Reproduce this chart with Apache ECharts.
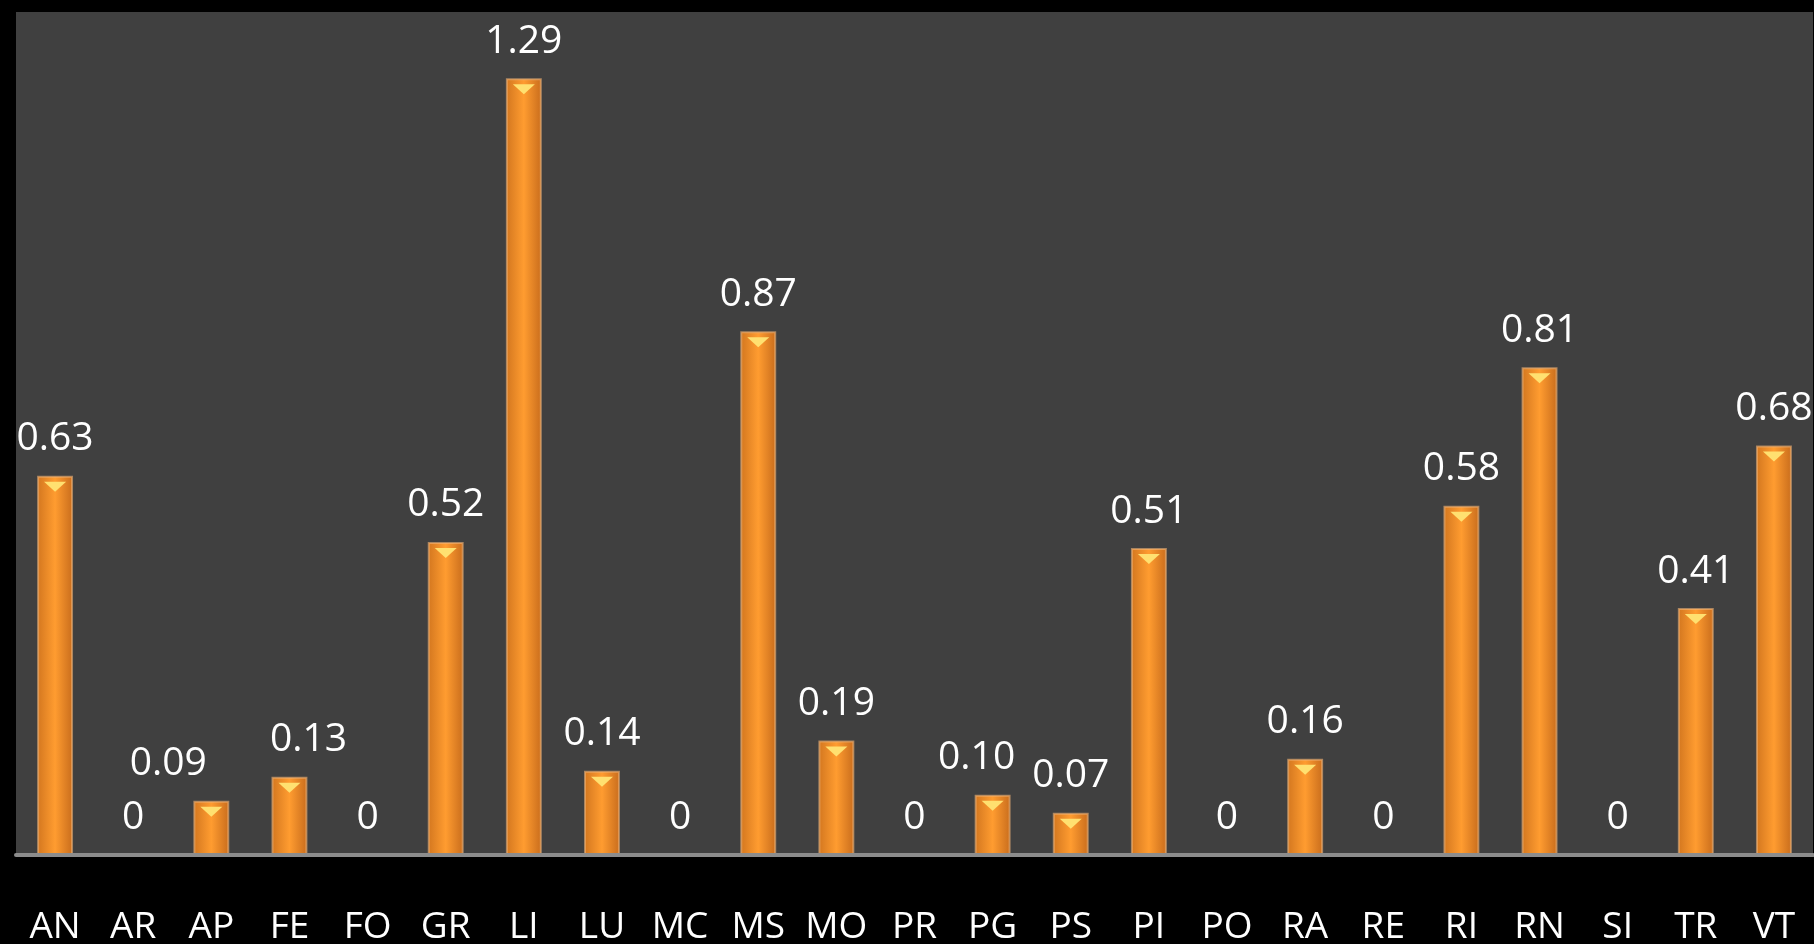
<!DOCTYPE html>
<html>
<head>
<meta charset="utf-8">
<style>
html, body { margin: 0; padding: 0; background: #000; }
#chart { width: 1814px; height: 944px; }
</style>
<script src="https://cdn.jsdelivr.net/npm/echarts@6/dist/echarts.min.js"></script>
</head>
<body>
<div id="chart"></div>
<script>
var categories = ['AN','AR','AP','FE','FO','GR','LI','LU','MC','MS','MO','PR','PG','PS','PI','PO','RA','RE','RI','RN','SI','TR','VT'];
var values = [0.63, 0, 0.09, 0.13, 0, 0.52, 1.29, 0.14, 0, 0.87, 0.19, 0, 0.10, 0.07, 0.51, 0, 0.16, 0, 0.58, 0.81, 0, 0.41, 0.68];

// a few labels were nudged sideways in the original
var labelShift = { AP: -43, FE: 19, PG: -16 };

var chart = echarts.init(document.getElementById('chart'));

var barData = values.map(function (v, i) {
    var dx = labelShift[categories[i]];
    return dx ? { value: v, label: { offset: [dx, 0] } } : v;
});
// top cap only where there is a bar
var capData = values.map(function (v) { return v > 0 ? v : '-'; });

var option = {
    backgroundColor: '#000',
    animation: false,
    grid: {
        left: 16,
        right: 1,
        top: 12,
        bottom: 89,
        show: true,
        backgroundColor: '#404040',
        borderWidth: 0,
        containLabel: false,
        outerBoundsMode: 'none'
    },
    xAxis: {
        type: 'category',
        data: categories,
        z: 5,
        axisLine: { lineStyle: { color: '#8c8c8c', width: 4 } },
        axisTick: { show: false },
        axisLabel: {
            color: '#fff',
            fontFamily: 'Open Sans',
            fontSize: 37,
            margin: 54,
            interval: 0
        }
    },
    yAxis: {
        type: 'value',
        min: 0,
        max: 1.4,
        show: false,
        splitLine: { show: false }
    },
    series: [
        {
            type: 'bar',
            data: barData,
            barWidth: '46%',
            itemStyle: {
                color: new echarts.graphic.LinearGradient(0, 0, 1, 0, [
                    { offset: 0, color: '#d2761f' },
                    { offset: 0.5, color: '#ff9c30' },
                    { offset: 1, color: '#c86c1c' }
                ]),
                borderColor: 'rgba(240,180,120,0.6)',
                borderWidth: 2
            },
            label: {
                show: true,
                position: 'top',
                distance: 17,
                color: '#fff',
                fontFamily: 'Open Sans',
                fontSize: 39,
                formatter: function (p) {
                    return p.value === 0 ? '0' : p.value.toFixed(2);
                }
            }
        },
        {
            type: 'pictorialBar',
            data: capData,
            symbol: 'triangle',
            symbolRotate: 180,
            symbolSize: [22, 10],
            symbolPosition: 'end',
            symbolOffset: [0, '60%'],
            itemStyle: { color: '#ffe070' },
            z: 4,
            silent: true
        }
    ]
};

chart.setOption(option);
</script>
</body>
</html>
